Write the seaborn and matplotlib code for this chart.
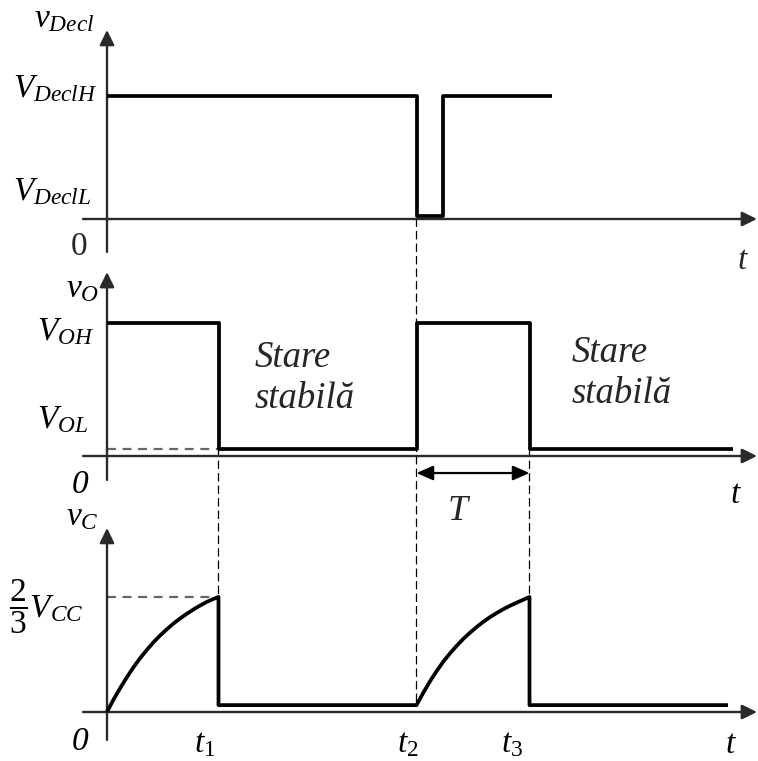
import matplotlib
matplotlib.use("Agg")
import matplotlib.pyplot as plt
from matplotlib.patches import ConnectionPatch
import pandas as pd
import seaborn as sns

# ---- time marks (arbitrary time units) ----
t1, t2, t3 = 1.115, 3.095, 4.225
trig_rise = 3.363
t_axis_start, t_axis_end = -0.24, 6.50

# ---- trigger input v_Decl (normalised: 1 = V_DeclH) ----
trig_t = [0.0, t2, t2, trig_rise, trig_rise, 4.45]
trig_v = [1.0, 1.0, 0.028, 0.028, 1.0, 1.0]

# ---- output v_O (normalised: 1 = V_OH) ----
vol_level = 0.056
vo_t = [0.0, t1, t1, t2, t2, t3, t3, 6.26]
vo_v = [1.0, 1.0, vol_level, vol_level, 1.0, 1.0, vol_level, vol_level]

# ---- capacitor voltage v_C (in units of V_CC) ----
vc_low = 0.04
vc_threshold = 0.667
charge1_t = [0.0, 0.063, 0.13, 0.197, 0.263, 0.33, 0.397, 0.463, 0.53,
             0.597, 0.663, 0.73, 0.797, 0.863, 0.93, 0.997, 1.063, t1]
charge1_v = [0.0, 0.070, 0.137, 0.200, 0.258, 0.311, 0.359, 0.403, 0.443,
             0.479, 0.512, 0.542, 0.569, 0.594, 0.617, 0.638, 0.655, 0.667]
charge2_t = [t2, 3.163, 3.23, 3.297, 3.363, 3.43, 3.497, 3.563, 3.63,
             3.697, 3.763, 3.83, 3.897, 3.963, 4.03, 4.097, 4.163, t3]
charge2_v = [vc_low, 0.112, 0.178, 0.238, 0.292, 0.340, 0.384, 0.424, 0.460,
             0.493, 0.523, 0.550, 0.574, 0.596, 0.616, 0.634, 0.651, 0.667]
vc_t = charge1_t + [t1] + charge2_t + [t3, 6.21]
vc_v = charge1_v + [vc_low] + charge2_v + [vc_low, vc_low]

sns.set_theme(style="white")
plt.rcParams["font.family"] = ["Liberation Serif", "DejaVu Serif"]
plt.rcParams["mathtext.fontset"] = "custom"
plt.rcParams["mathtext.rm"] = "Liberation Serif"
plt.rcParams["mathtext.it"] = "Liberation Serif:italic"
plt.rcParams["mathtext.bf"] = "Liberation Serif:bold"

W, H = 758, 761
fig = plt.figure(figsize=(W / 100, H / 100), dpi=100)
fig.patch.set_facecolor("white")

xlim = (-1.07, 6.51)
ax1 = fig.add_axes([0, (H - 262) / H, 1, 262 / H])
ax2 = fig.add_axes([0, (H - 505) / H, 1, 243 / H])
ax3 = fig.add_axes([0, 0, 1, 256 / H])
ax1.set_ylim(-0.3496, 1.7805)
ax2.set_ylim(-0.3684, 1.4586)
ax3.set_ylim(-0.284, 1.2)
for ax in (ax1, ax2, ax3):
    ax.set_xlim(*xlim)
    ax.set_axis_off()
    ax.patch.set_alpha(0)

AX_COLOR = "#2a2a2a"
arrow_kw = dict(arrowstyle="-|>,head_length=0.45,head_width=0.22",
                color=AX_COLOR, lw=1.7, mutation_scale=20,
                shrinkA=0, shrinkB=0)


def draw_axes(ax, y_bottom, y_top):
    ax.annotate("", xy=(t_axis_end, 0), xytext=(t_axis_start, 0),
                arrowprops=arrow_kw, zorder=2)
    ax.annotate("", xy=(0, y_top), xytext=(0, y_bottom),
                arrowprops=arrow_kw, zorder=2)


draw_axes(ax1, -0.268, 1.537)
draw_axes(ax2, -0.18, 1.383)
draw_axes(ax3, -0.162, 1.067)

# dashed reference lines
gray_dash = dict(color="#666666", lw=1.6, linestyle=(0, (4, 3)), zorder=1)
ax2.plot([0, t1], [vol_level, vol_level], **gray_dash)
ax3.plot([0, t1], [vc_threshold, vc_threshold], **gray_dash)

vdash = dict(color="black", lw=0.9, linestyle=(0, (6, 4)), zorder=0)
for (axA, yA, axB, yB, tx) in [
    (ax1, 0.0, ax3, vc_low, t2),
    (ax2, vol_level, ax3, vc_threshold, t1),
    (ax2, vol_level, ax3, vc_threshold, t3),
]:
    con = ConnectionPatch(xyA=(tx, yA), coordsA=axA.transData,
                          xyB=(tx, yB), coordsB=axB.transData, **vdash)
    fig.add_artist(con)

# signals
sig_kw = dict(color="black", linewidth=2.7, sort=False, estimator=None,
              legend=False)
for ax, tt, vv in [(ax1, trig_t, trig_v), (ax2, vo_t, vo_v), (ax3, vc_t, vc_v)]:
    df = pd.DataFrame({"t": tt, "v": vv})
    sns.lineplot(data=df, x="t", y="v", ax=ax, zorder=3, **sig_kw)
    for ln in ax.get_lines():
        ln.set_solid_joinstyle("round")
        ln.set_solid_capstyle("butt")

# duration arrow T
ax2.annotate("", xy=(t3, -0.128), xytext=(t2, -0.128),
             arrowprops=dict(arrowstyle="<|-|>,head_length=0.5,head_width=0.22",
                             color="black", lw=1.6, mutation_scale=20,
                             shrinkA=0, shrinkB=0))

FS = 24
txt = dict(fontsize=FS, color="black", va="baseline")

# panel 1 labels
ax1.text(-0.73, 1.561, r"$v_{Decl}$", ha="left", **txt)
ax1.text(-0.94, 0.992, r"$V_{DeclH}$", ha="left", **txt)
ax1.text(-0.94, 0.154, r"$V_{DeclL}$", ha="left", **txt)
ax1.text(-0.20, -0.228, "0", ha="right", va="center", fontsize=FS)
ax1.text(6.35, -0.41, "t", ha="center", fontstyle="italic", fontsize=FS,
         va="baseline")

# panel 2 labels
ax2.text(-0.41, 1.195, r"$v_{O}$", ha="left", **txt)
ax2.text(-0.70, 0.872, r"$V_{OH}$", ha="left", **txt)
ax2.text(-0.70, 0.211, r"$V_{OL}$", ha="left", **txt)
ax2.text(-0.19, -0.278, "0", ha="right", fontstyle="italic", **txt)
for x0, yb in [(1.48, 0.669), (4.65, 0.707)]:
    ax2.text(x0, yb, "Stare", ha="left", fontstyle="italic",
             fontsize=26.5, va="baseline")
    ax2.text(x0, yb - 0.31, "stabilă", ha="left", fontstyle="italic",
             fontsize=26.5, va="baseline")
ax2.text(6.28, -0.353, "t", ha="center", fontstyle="italic", **txt)
ax2.text(3.51, -0.481, "T", ha="center", fontstyle="italic", fontsize=26,
         va="baseline")

# panel 3 labels
ax3.text(-0.41, 1.084, r"$v_{C}$", ha="left", **txt)
ax3.text(-0.98, 0.545, r"$\dfrac{2}{3}V_{CC}$", ha="left", **txt)
ax3.text(-0.19, -0.22, "0", ha="right", fontstyle="italic", **txt)
for x0, lab in [(0.87, r"$t_1$"), (2.90, r"$t_2$"), (3.94, r"$t_3$")]:
    ax3.text(x0, -0.235, lab, ha="left", **txt)
ax3.text(6.23, -0.235, "t", ha="center", fontstyle="italic", **txt)

fig.savefig("out.png", dpi=100, facecolor="white")
